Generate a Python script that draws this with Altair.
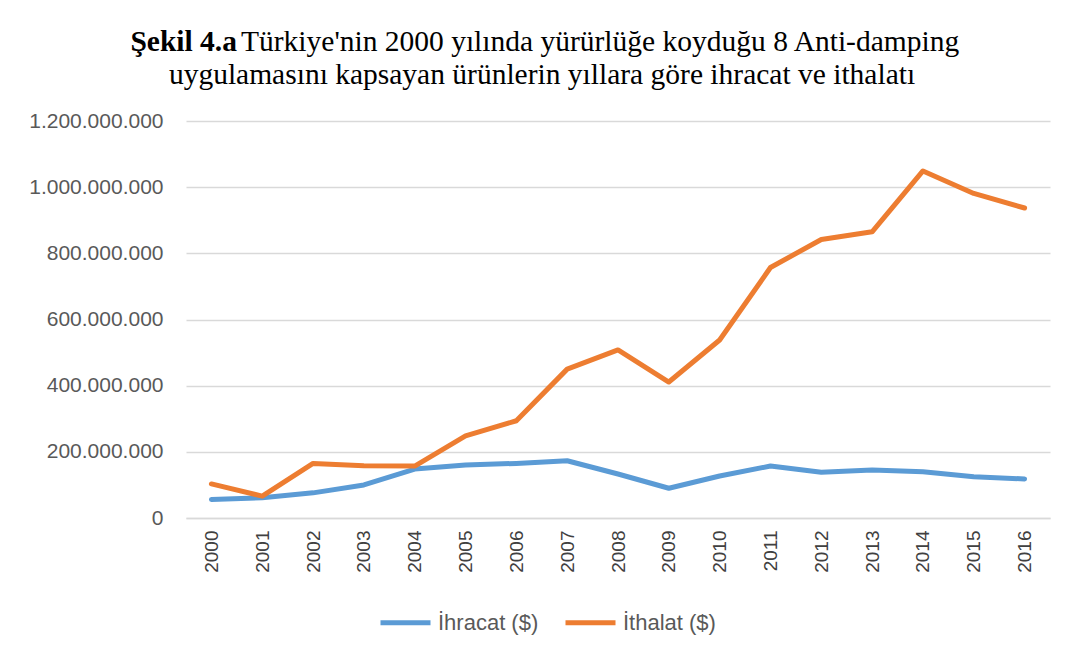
import altair as alt
import pandas as pd

years = [str(y) for y in range(2000, 2017)]
ihracat = [56e6, 61e6, 76e6, 100e6, 148e6, 160e6, 165e6, 173e6, 133e6, 90e6,
           127e6, 157e6, 138e6, 145e6, 140e6, 125e6, 118e6]
ithalat = [103e6, 66e6, 165e6, 158e6, 157e6, 248e6, 294e6, 450e6, 508e6, 411e6,
           538e6, 757e6, 842e6, 865e6, 1049e6, 981e6, 937e6]
series_names = ["İhracat ($)", "İthalat ($)"]
series_colors = ["#5B9BD5", "#ED7D31"]
y_ticks = [0, 200e6, 400e6, 600e6, 800e6, 1000e6, 1200e6]

title_bold = "Şekil 4.a"
title_line1 = "Türkiye'nin 2000  yılında yürürlüğe koyduğu 8 Anti-damping"
title_line2 = "uygulamasını kapsayan ürünlerin yıllara göre ihracat ve ithalatı"

rows = []
for i, yr in enumerate(years):
    rows.append({"Yıl": yr, "Seri": series_names[0], "Değer": ihracat[i]})
    rows.append({"Yıl": yr, "Seri": series_names[1], "Değer": ithalat[i]})
df = pd.DataFrame(rows)

W, H = 864, 397
label_font = "Liberation Sans"
gray = "#595959"
title_size = 29.5

lines = alt.Chart(df).mark_line(strokeWidth=5, strokeCap="round", strokeJoin="round").encode(
    x=alt.X("Yıl:O", sort=years, title=None,
            axis=alt.Axis(labelAngle=-90, labelFont=label_font, labelFontSize=19,
                          labelColor="#404040", labelPadding=12, ticks=False,
                          domainColor="#d9d9d9", domainWidth=1.3, grid=False)),
    y=alt.Y("Değer:Q", title=None,
            scale=alt.Scale(domain=[0, 1.2e9], nice=False),
            axis=alt.Axis(values=y_ticks, domain=False, ticks=False,
                          labelFont=label_font, labelFontSize=21, labelColor=gray,
                          labelPadding=23, gridColor="#d9d9d9", gridWidth=1.3,
                          labelExpr="replace(format(datum.value, ','), /,/g, '.')")),
    color=alt.Color("Seri:N",
                    scale=alt.Scale(domain=series_names, range=series_colors),
                    legend=alt.Legend(title=None, orient="none", direction="horizontal",
                                      legendX=192, legendY=474,
                                      symbolType="stroke", symbolSize=2500,
                                      symbolStrokeWidth=5, labelFont=label_font,
                                      labelFontSize=22, labelColor=gray,
                                      labelOffset=5, columnPadding=16)),
)

t_bold = alt.Chart(pd.DataFrame({"t": [title_bold]})).mark_text(
    font="Liberation Serif", fontSize=title_size, fontWeight="bold", align="right",
    baseline="alphabetic", color="black").encode(
    text="t:N", x=alt.value(51), y=alt.value(-70))
t_l1 = alt.Chart(pd.DataFrame({"t": [title_line1]})).mark_text(
    font="Liberation Serif", fontSize=title_size, align="left",
    baseline="alphabetic", color="black").encode(
    text="t:N", x=alt.value(55), y=alt.value(-70))
t_l2 = alt.Chart(pd.DataFrame({"t": [title_line2]})).mark_text(
    font="Liberation Serif", fontSize=title_size, align="center",
    baseline="alphabetic", color="black").encode(
    text="t:N", x=alt.value(356), y=alt.value(-37))

chart = alt.layer(lines, t_bold, t_l1, t_l2).properties(
    width=W, height=H,
    autosize=alt.AutoSizeParams(type="none"),
    padding={"left": 178, "top": 113, "right": 18, "bottom": 138},
    background="white",
).configure_view(stroke=None)

chart.save("out.html", embed_options={"renderer": "svg", "actions": False})
